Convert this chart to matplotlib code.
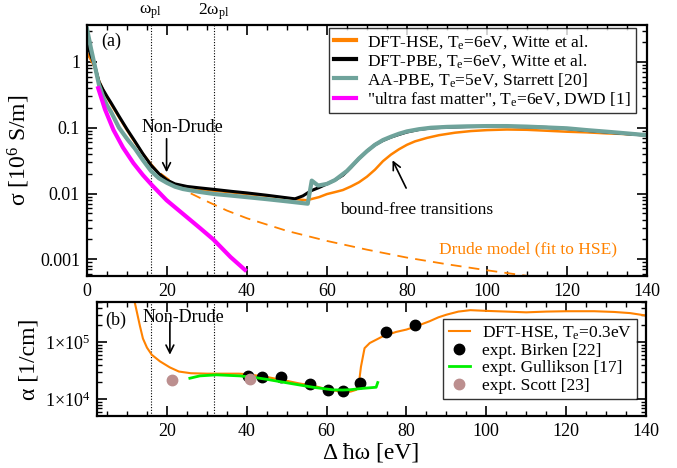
import numpy as np
import matplotlib
matplotlib.use("Agg")
import matplotlib.pyplot as plt
from matplotlib.ticker import MultipleLocator, LogLocator, FixedLocator, NullFormatter

plt.rcParams['font.family'] = ['Liberation Serif', 'DejaVu Serif']
plt.rcParams['mathtext.fontset'] = 'custom'
plt.rcParams['mathtext.rm'] = 'Liberation Serif'
plt.rcParams['mathtext.it'] = 'Liberation Serif:italic'

# plasma frequency markers (eV)
w_pl = [15.9, 31.8]

# panel (a): conductivity sigma [10^6 S/m] vs photon energy [eV]
hse_x = [0, 1, 2, 3, 4, 5, 6, 8, 10, 12, 14, 16, 18, 20, 22, 25, 28, 32, 36, 40, 45, 50, 53, 55,
         56, 58, 60, 62, 64, 66, 68, 70, 72, 74, 76, 78, 80, 82, 85, 88, 92, 96, 100, 105, 110,
         115, 120, 125, 130, 135, 140]
hse_y = [1.35, 1.1, 0.8, 0.52, 0.38, 0.29, 0.23, 0.145, 0.092, 0.06, 0.04, 0.028, 0.02, 0.016,
         0.0137, 0.0122, 0.0115, 0.011, 0.0104, 0.0098, 0.0092, 0.0085, 0.0081, 0.0079,
         0.0082, 0.0088, 0.0098, 0.0105, 0.0113, 0.0128, 0.0148, 0.018, 0.023, 0.031, 0.039, 0.047,
         0.055, 0.062, 0.07, 0.077, 0.084, 0.089, 0.092, 0.094, 0.093,
         0.09, 0.087, 0.085, 0.082, 0.08, 0.077]

pbe_x = [0, 1, 2, 3, 4, 5, 6, 8, 10, 12, 14, 16, 18, 20, 22, 25, 28, 32, 36, 40, 45, 50, 52, 54,
         56, 58, 60, 62, 64, 66, 68, 70, 72, 74, 76, 78, 80, 83, 86, 90, 95, 100, 105, 110, 115,
         120, 125, 130, 135, 140]
pbe_y = [1.9, 1.25, 0.85, 0.5, 0.38, 0.3, 0.24, 0.15, 0.095, 0.062, 0.04, 0.027, 0.02, 0.016,
         0.014, 0.0128, 0.0122, 0.0115, 0.0108, 0.0102, 0.0094, 0.0086, 0.0083, 0.0092,
         0.011, 0.0123, 0.014, 0.016, 0.019, 0.025, 0.034, 0.044, 0.055, 0.064, 0.072, 0.079,
         0.086, 0.094, 0.099, 0.102, 0.104, 0.105, 0.105, 0.103, 0.101,
         0.097, 0.091, 0.086, 0.081, 0.077]

aa_x = [0, 1, 2, 3, 4, 5, 6, 8, 10, 12, 14, 16, 18, 20, 22, 24, 28, 32, 36, 40, 45, 50, 55.2,
        56.2, 57.8, 60, 62, 65, 68, 70, 72, 74, 76, 78, 80, 83, 86, 90, 95, 100, 105, 110, 115,
        120, 125, 130, 135, 140]
aa_y = [3.2, 1.6, 0.85, 0.45, 0.3, 0.22, 0.175, 0.1, 0.068, 0.048, 0.032, 0.022, 0.017, 0.0145,
        0.0127, 0.0117, 0.0106, 0.0098, 0.0093, 0.0088, 0.0082, 0.0076, 0.007,
        0.0157, 0.0132, 0.014, 0.016, 0.022, 0.034, 0.044, 0.055, 0.065, 0.073, 0.081, 0.088,
        0.095, 0.1, 0.103, 0.105, 0.106, 0.106, 0.104, 0.101,
        0.098, 0.092, 0.087, 0.082, 0.077]

ufm_x = [2.8, 4.5, 6.6, 9, 11.6, 14, 16.2, 19.9, 24, 28.2, 31.6, 35.9, 39.5]
ufm_y = [0.40, 0.19, 0.093, 0.05, 0.029, 0.019, 0.0135, 0.0079, 0.0049, 0.003, 0.002, 0.00108, 0.00069]

drude_x = [0, 2, 4, 6, 8, 10, 14, 18, 22, 26, 30, 35, 40, 50, 60, 70, 80, 90, 100, 110, 120]
drude_y = [1.4, 0.77, 0.33, 0.16, 0.098, 0.065, 0.034, 0.021, 0.014, 0.010, 0.0076, 0.0055,
           0.0042, 0.0027, 0.0019, 0.0014, 0.00106, 0.00084, 0.00068, 0.00056, 0.00047]

# panel (b): absorption coefficient alpha [1/cm]
hse03_x = [11.8, 12.5, 13.25, 14, 15, 16.2, 18.25, 20.75, 23, 26, 30, 34, 38, 40, 45, 50, 53, 57,
           60, 63, 66, 67.4, 68.2, 68.6, 69.5, 70.8, 74, 77.4, 80, 82.4, 85.75, 88, 90, 93, 96,
           100, 105, 110, 115, 120, 127, 132, 136, 140]
hse03_y = [5.5e5, 3.3e5, 1.9e5, 1.15e5, 8e4, 6e4, 4.6e4, 3.6e4, 3.05e4, 2.85e4, 2.8e4, 2.8e4,
           2.8e4, 2.75e4, 2.45e4, 2.1e4, 1.9e4, 1.7e4, 1.5e4, 1.38e4, 1.36e4, 1.46e4, 2.2e4,
           3.7e4, 7.8e4, 9.6e4, 1.25e5, 1.5e5, 1.65e5, 1.88e5, 2.3e5, 2.7e5, 3.0e5, 3.4e5, 3.6e5,
           3.5e5, 3.4e5, 3.3e5, 3.4e5, 3.45e5, 3.45e5, 3.35e5, 3.2e5, 2.9e5]

birken_x = [40.3, 43.7, 48.5, 55.75, 60.3, 64.0, 68.4, 74.75, 82.2]
birken_y = [2.56e4, 2.43e4, 2.43e4, 1.86e4, 1.46e4, 1.42e4, 1.96e4, 1.5e5, 1.96e5]

gull_x = [25.75, 28.25, 32.4, 38.25, 42, 45, 50.75, 56.6, 61.6, 64, 66, 69, 72.4, 72.8]
gull_y = [2.33e4, 2.56e4, 2.67e4, 2.56e4, 2.4e4, 2.23e4, 1.9e4, 1.62e4, 1.46e4, 1.45e4,
          1.47e4, 1.55e4, 1.62e4, 1.96e4]

scott_x = [21.4, 40.9]
scott_y = [2.18e4, 2.3e4]

orange = '#ff8200'
teal = '#6fa39b'
arrow_kw = dict(arrowstyle='->', color='black', lw=1.2, shrinkA=0, shrinkB=0, mutation_scale=14)
legend_kw = dict(borderaxespad=0, fontsize=12.5, frameon=True, fancybox=False,
                 handlelength=1.25, handletextpad=0.65, labelspacing=0.08, borderpad=0.3)

fig = plt.figure(figsize=(6.77, 4.68), dpi=100)
ax1 = fig.add_axes([0.1285, 0.4103, 0.827, 0.5363])
ax2 = fig.add_axes([0.1433, 0.1111, 0.811, 0.2436])


def style_axes(ax):
    for s in ax.spines.values():
        s.set_linewidth(1.6)
    ax.tick_params(which='both', direction='in', top=True, right=True, labelsize=13, pad=5)
    ax.tick_params(which='major', length=7, width=1.2)
    ax.tick_params(which='minor', length=3.5, width=1.0)
    ax.xaxis.set_major_locator(MultipleLocator(20))
    ax.xaxis.set_minor_locator(MultipleLocator(5))


# ---- panel (a)
ax1.plot(drude_x, drude_y, '--', color=orange, lw=1.3, dashes=(6, 4))
ax1.plot(hse_x, hse_y, color=orange, lw=1.8, label='DFT-HSE, T$_{\\mathrm{e}}$=6eV, Witte et al.')
ax1.plot(pbe_x, pbe_y, color='black', lw=2.2, label='DFT-PBE, T$_{\\mathrm{e}}$=6eV, Witte et al.')
ax1.plot(aa_x, aa_y, color=teal, lw=3.0, label='AA-PBE, T$_{\\mathrm{e}}$=5eV, Starrett [20]')
ax1.plot(ufm_x, ufm_y, color='#ff00ff', lw=3.0,
         label='"ultra fast matter", T$_{\\mathrm{e}}$=6eV, DWD [1]')
for w in w_pl:
    ax1.axvline(w, color='black', lw=0.8, ls=(0, (1, 1.5)), zorder=0)

ax1.set_yscale('log')
ax1.set_xlim(0, 140)
ax1.set_ylim(5.57e-4, 3.65)
style_axes(ax1)
ax1.yaxis.set_major_locator(FixedLocator([0.001, 0.01, 0.1, 1]))
ax1.set_yticklabels(['0.001', '0.01', '0.1', '1'])
ax1.yaxis.set_minor_locator(LogLocator(base=10, subs=np.arange(2, 10)))
ax1.yaxis.set_minor_formatter(NullFormatter())
ax1.set_ylabel('σ [10$^{6}$ S/m]', fontsize=17, labelpad=6)

leg1 = ax1.legend(loc='upper right', bbox_to_anchor=(0.98, 0.99), **legend_kw)
leg1.get_frame().set_edgecolor('black')
leg1.get_frame().set_linewidth(1.0)
for h in leg1.get_lines():
    h.set_linewidth(3.0)

ax1.text(0.026, 0.915, '(a)', transform=ax1.transAxes, fontsize=13)
ax1.text(23.8, 0.1, 'Non-Drude', fontsize=13, ha='center', va='center')
ax1.annotate('', xy=(19.9, 0.021), xytext=(19.9, 0.068), arrowprops=arrow_kw)
ax1.annotate('bound-free transitions', xy=(76.4, 0.032), xytext=(82.5, 0.0056), fontsize=12.5,
             ha='center', va='center',
             arrowprops=dict(arrow_kw, shrinkA=9))
ax1.text(110.2, 0.00139, 'Drude model (fit to HSE)', color=orange, fontsize=12.5,
         ha='center', va='center')
ax1.text(w_pl[0], 1.052, 'ω$_{\\mathrm{pl}}$', transform=ax1.get_xaxis_transform(),
         fontsize=12.5, ha='center', va='center')
ax1.text(w_pl[1], 1.052, '2ω$_{\\mathrm{pl}}$', transform=ax1.get_xaxis_transform(),
         fontsize=12.5, ha='center', va='center')

# ---- panel (b)
ax2.plot(hse03_x, hse03_y, color=orange, lw=1.5, label='DFT-HSE, T$_{\\mathrm{e}}$=0.3eV')
ax2.plot(birken_x, birken_y, 'o', color='black', ms=7.5, label='expt. Birken [22]', zorder=3)
ax2.plot(gull_x, gull_y, color='#00f000', lw=2.0, label='expt. Gullikson [17]', zorder=4)
ax2.plot(scott_x, scott_y, 'o', color='#bc8f8f', ms=7.5, label='expt. Scott [23]', zorder=5)
for w in w_pl:
    ax2.axvline(w, color='black', lw=0.8, ls=(0, (1, 1.5)), zorder=0)

ax2.set_yscale('log')
ax2.set_xlim(2.5, 140)
ax2.set_ylim(5.1e3, 5.0e5)
style_axes(ax2)
ax2.yaxis.set_major_locator(FixedLocator([1e4, 1e5]))
ax2.set_yticklabels(['1×10$^{4}$', '1×10$^{5}$'])
ax2.yaxis.set_minor_locator(LogLocator(base=10, subs=np.arange(2, 10)))
ax2.yaxis.set_minor_formatter(NullFormatter())
ax2.set_ylabel('α [1/cm]', fontsize=17, labelpad=4)
ax2.set_xlabel('Δ ħω [eV]', fontsize=17, labelpad=2)

leg2 = ax2.legend(loc='upper right', bbox_to_anchor=(0.9836, 0.848), **legend_kw)
leg2.get_frame().set_edgecolor('black')
leg2.get_frame().set_linewidth(1.0)

ax2.text(0.015, 0.80, '(b)', transform=ax2.transAxes, fontsize=13)
ax2.text(24.2, 2.67e5, 'Non-Drude', fontsize=13, ha='center', va='center')
ax2.annotate('', xy=(20.75, 6.0e4), xytext=(20.75, 2.2e5), arrowprops=arrow_kw)

fig.savefig('out.png', dpi=100)
